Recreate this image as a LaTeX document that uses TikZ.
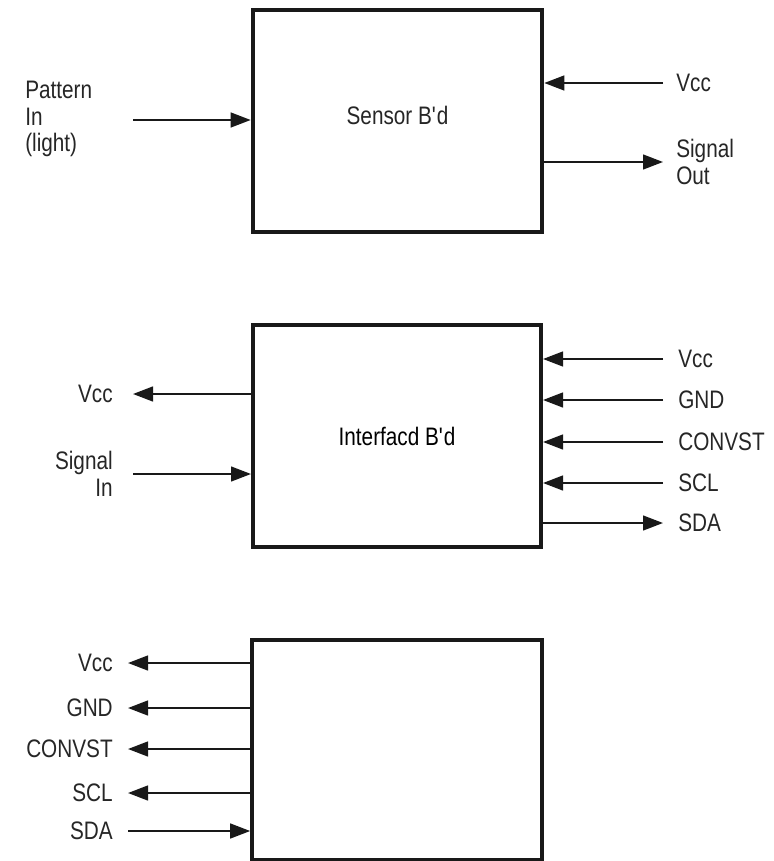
\documentclass[tikz,border=0pt]{standalone}
\usepackage{fontspec}
\setmainfont{Liberation Sans}[FakeStretch=0.82]
\usetikzlibrary{arrows.meta,positioning}

\begin{document}
\begin{tikzpicture}[
  x=0.25mm, y=-0.25mm,
  font=\fontsize{18}{19}\selectfont,
  node distance = 3.25mm,
  board/.style = {rectangle, draw=black!90, line width=1mm, inner sep=0pt},
  sig/.style   = {-{Triangle[length=5mm, width=3.7mm]}, draw=black!90, line width=.5mm},
  lbl/.style   = {inner sep=0pt, text=black!85},
  lblL/.style  = {lbl, align=left},
  lblR/.style  = {lbl, align=right},
]
\useasboundingbox (0,0) rectangle (773,861);

% -- sensor board -----------------------------------------------------
\node[board, minimum width=72.4mm, minimum height=55.5mm] (sensor) at (397.5,121) {};
\node[lbl] (sensorT) at (397.5,115) {Sensor B\textquotesingle d};

\coordinate (pat)    at (133,120);
\coordinate (vccA)   at (663,83);
\coordinate (sigout) at (663,162);

\node[lblL, anchor=west] (patL) at (25,119) {Pattern\\In\\(light)};
\node[lblL, right=of vccA] (vccAL) {Vcc};
\node[lblL, right=of sigout] (sigoutL) {Signal\\Out};

\draw[sig] (pat) -- (pat -| sensor.west);
\draw[sig] (vccA) -- (vccA -| sensor.east);
\draw[sig] (sensor.east |- sigout) -- (sigout);

% -- interface board --------------------------------------------------
\node[board, minimum width=72mm, minimum height=55.6mm] (iface) at (397,436) {Interfacd B\textquotesingle d};

\coordinate (vccB)  at (133,394);
\coordinate (sigin) at (133,474);
\coordinate (vccC)  at (663,359);
\coordinate (gndC)  at (663,400);
\coordinate (cnvC)  at (663,442);
\coordinate (sclC)  at (663,483);
\coordinate (sdaC)  at (663,523);

\node[lblR, left=5mm of vccB] (vccBL) {Vcc};
\node[lblR, left=5mm of sigin] (siginL) {Signal\\In};
\node[lblL, right=3.75mm of vccC] (vccCL) {Vcc};
\node[lblL, right=3.75mm of gndC] (gndCL) {GND};
\node[lblL, right=3.75mm of cnvC] (cnvCL) {CONVST};
\node[lblL, right=3.75mm of sclC] (sclCL) {SCL};
\node[lblL, right=3.75mm of sdaC] (sdaCL) {SDA};

\draw[sig] (iface.west |- vccB) -- (vccB);
\draw[sig] (sigin) -- (sigin -| iface.west);
\draw[sig] (vccC) -- (vccC -| iface.east);
\draw[sig] (gndC) -- (gndC -| iface.east);
\draw[sig] (cnvC) -- (cnvC -| iface.east);
\draw[sig] (sclC) -- (sclC -| iface.east);
\draw[sig] (iface.east |- sdaC) -- (sdaC);

% -- host board -------------------------------------------------------
\node[board, minimum width=72.4mm, minimum height=54.8mm] (host) at (397,750) {};

\coordinate (vccD) at (128,663);
\coordinate (gndD) at (128,708);
\coordinate (cnvD) at (128,749);
\coordinate (sclD) at (128,793);
\coordinate (sdaD) at (128,831);

\node[lblR, left=3.75mm of vccD] (vccDL) {Vcc};
\node[lblR, left=3.75mm of gndD] (gndDL) {GND};
\node[lblR, left=3.75mm of cnvD] (cnvDL) {CONVST};
\node[lblR, left=3.75mm of sclD] (sclDL) {SCL};
\node[lblR, left=3.75mm of sdaD] (sdaDL) {SDA};

\draw[sig] (host.west |- vccD) -- (vccD);
\draw[sig] (host.west |- gndD) -- (gndD);
\draw[sig] (host.west |- cnvD) -- (cnvD);
\draw[sig] (host.west |- sclD) -- (sclD);
\draw[sig] (sdaD) -- (sdaD -| host.west);
\end{tikzpicture}
\end{document}
